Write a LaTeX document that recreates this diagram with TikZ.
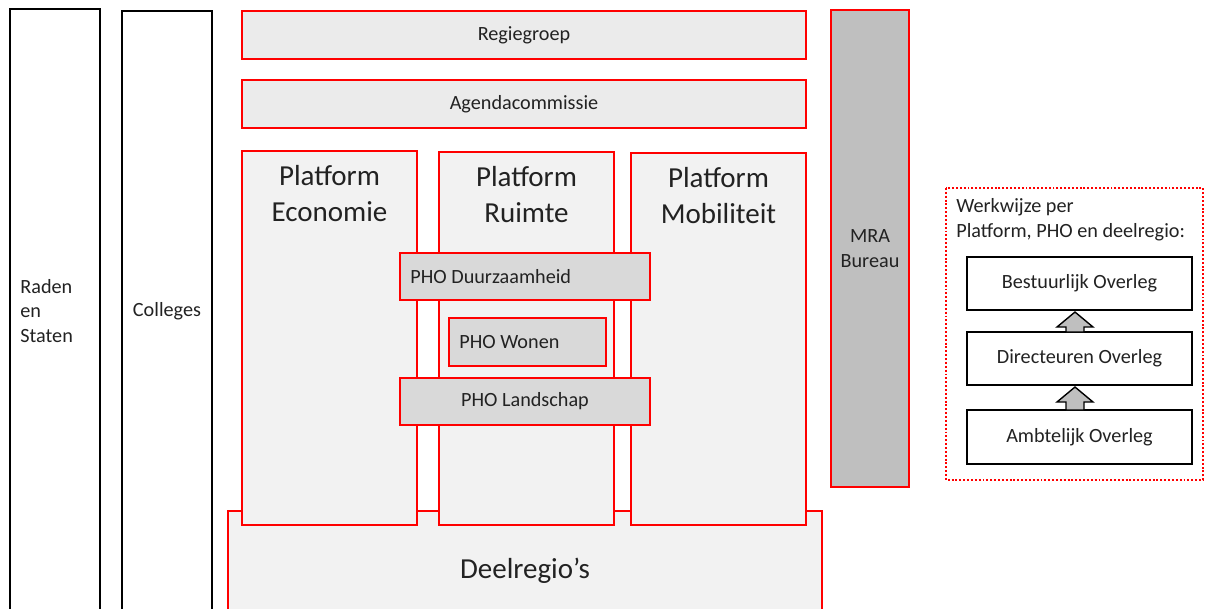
\documentclass[tikz,border=0pt]{standalone}
\usepackage{fontspec}
\setmainfont{Carlito}
\usetikzlibrary{calc}
\definecolor{redline}{RGB}{255,0,0}
\definecolor{regfill}{RGB}{235,235,235}
\definecolor{platfill}{RGB}{242,242,242}
\definecolor{phofill}{RGB}{217,217,217}
\definecolor{mrafill}{RGB}{191,191,191}
\definecolor{txt}{RGB}{34,34,34}
\begin{document}
\begin{tikzpicture}[x=0.02cm,y=-0.02cm,
  redbox/.style={draw=redline, line width=1.1pt, inner sep=0pt, outer sep=0pt},
  blackbox/.style={draw=black, line width=1.1pt, fill=white, inner sep=0pt, outer sep=0pt},
  smalltxt/.style={font=\fontsize{11.5}{14}\selectfont, text=txt, align=center},
  bigtxt/.style={font=\fontsize{16.5}{20}\selectfont, text=txt, align=center},
  garrow/.style={draw=black, line width=0.8pt, fill=mrafill, line join=miter}
]
\useasboundingbox (0,0) rectangle (1205,609);
\clip (0,0) rectangle (1205,609);
\fill[white] (0,0) rectangle (1205,609);

% left columns
\node[blackbox, anchor=north west, minimum width=1.8cm, minimum height=13cm] (rs) at (10,9) {};
\node[smalltxt, align=left, anchor=west, inner sep=0pt] (rstxt) at (20,311) {Raden\\en\\Staten};
\node[blackbox, anchor=north west, minimum width=1.8cm, minimum height=13cm] (col) at (122,11) {};
\node[smalltxt, inner sep=0pt] (coltxt) at (167,311) {Colleges};

% top bars
\node[redbox, fill=regfill, minimum width=11.28cm, minimum height=0.96cm, smalltxt] (rg) at (524,35) {Regiegroep};
\node[redbox, fill=regfill, minimum width=11.28cm, minimum height=0.96cm, smalltxt] (ac) at (524,104) {Agendacommissie};

% Deelregio's
\node[redbox, fill=platfill, anchor=north west, minimum width=11.88cm, minimum height=3cm] (dr) at (228,511) {};
\node[bigtxt, inner sep=0pt] (drtxt) at (525,571) {Deelregio’s};

% platforms
\node[redbox, fill=platfill, minimum width=3.5cm, minimum height=7.48cm] (pe) at (329.5,338) {};
\node[bigtxt, inner sep=0pt] (petxt) at (329.5,193.5) {Platform\\Economie};
\node[redbox, fill=platfill, minimum width=3.5cm, minimum height=7.46cm] (pr) at (526.5,338.5) {};
\node[bigtxt, inner sep=0pt] (prtxt) at (526.5,194.5) {Platform\\Ruimte};
\node[redbox, fill=platfill, minimum width=3.5cm, minimum height=7.44cm] (pm) at (718.5,339) {};
\node[bigtxt, inner sep=0pt] (pmtxt) at (718.5,195.5) {Platform\\Mobiliteit};

% PHO boxes
\node[redbox, fill=phofill, minimum width=5cm, minimum height=0.94cm] (pd) at (525,276.5) {};
\node[smalltxt, anchor=west, inner sep=0pt] (pdtxt) at ($(pd.west)+(10,0)$) {PHO Duurzaamheid};
\node[redbox, fill=phofill, minimum width=3.14cm, minimum height=0.96cm] (pw) at (527.5,342) {};
\node[smalltxt, anchor=west, inner sep=0pt] (pwtxt) at ($(pw.west)+(10,0)$) {PHO Wonen};
\node[redbox, fill=phofill, minimum width=5cm, minimum height=0.94cm, smalltxt] (pl) at (525,401.5) {PHO Landschap};

% MRA Bureau
\node[redbox, fill=mrafill, minimum width=1.56cm, minimum height=9.54cm, smalltxt] (mra) at (870,248.5) {MRA\\Bureau};

% Werkwijze
\draw[draw=redline, line width=1.1pt, dash pattern=on 1.1pt off 1.1pt] (946,188) rectangle (1203,480);
\node[smalltxt, align=left, anchor=west, inner sep=0pt] (ww) at (956,219.5) {Werkwijze per\\Platform, PHO en deelregio:};
\node[blackbox, minimum width=4.5cm, minimum height=1.06cm, smalltxt] (bo) at (1079.5,283.5) {Bestuurlijk Overleg};
\node[blackbox, minimum width=4.5cm, minimum height=1.06cm, smalltxt] (do) at (1079.5,358.5) {Directeuren Overleg};
\node[blackbox, minimum width=4.5cm, minimum height=1.08cm, smalltxt] (ao) at (1079.5,437) {Ambtelijk Overleg};

\coordinate (a1) at ($(ao.north)+(-4.5,0)$);
\draw[garrow] (a1) ++(-9,0) -- ++(0,-8) -- ++(-9,0) -- ++(18,-15) -- ++(18,15) -- ++(-9,0) -- ++(0,8) -- cycle;
\coordinate (a2) at ($(do.north)+(-4.5,0)$);
\draw[garrow] (a2) ++(-9,0) -- ++(0,-5) -- ++(-9,0) -- ++(18,-15) -- ++(18,15) -- ++(-9,0) -- ++(0,5) -- cycle;
\end{tikzpicture}
\end{document}
